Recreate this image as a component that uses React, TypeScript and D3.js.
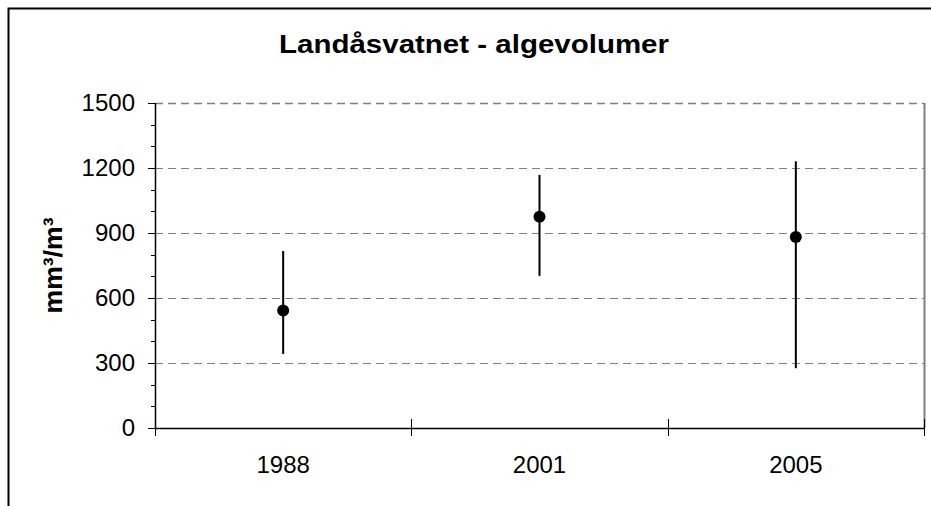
import React from "react";
import * as d3 from "d3";

const categories = ["1988", "2001", "2005"];
const meanValues = [542, 975, 882];
const lowValues = [342, 702, 276];
const highValues = [817, 1168, 1231];
const yTicks = [0, 300, 600, 900, 1200, 1500];
const yMinorTicks = d3.range(0, 1501, 100);
const titleText = "Landåsvatnet - algevolumer";
const yAxisTitle = "mm³/m³";

const W = 931;
const H = 506;
const plot = { left: 155, right: 924, top: 103, bottom: 428 };

export default function App() {
  const x = d3
    .scaleBand<string>()
    .domain(categories)
    .range([plot.left, plot.right])
    .padding(0);
  const y = d3.scaleLinear().domain([0, 1500]).range([plot.bottom, plot.top]);
  const font = "'Liberation Sans', Arial, sans-serif";
  const boundaries = [...categories.map((c) => x(c) as number), plot.right];

  return (
    <svg
      width={W}
      height={H}
      style={{ position: "absolute", left: 0, top: 0, background: "#fff" }}
      fontFamily={font}
    >
      <rect x={0} y={0} width={W} height={H} fill="#fff" />
      {/* outer frame */}
      <rect x={8.5} y={8.5} width={W + 20} height={H + 20} fill="none" stroke="#000" strokeWidth={2} />
      {/* title */}
      <text
        x={474}
        y={53}
        textAnchor="middle"
        fontSize={25}
        fontWeight="bold"
        fill="#000"
        textLength={390}
        lengthAdjust="spacingAndGlyphs"
      >
        {titleText}
      </text>
      {/* gridlines */}
      {yTicks
        .filter((t) => t > 0)
        .map((t) => (
          <line
            key={"g" + t}
            x1={plot.left}
            x2={plot.right}
            y1={Math.round(y(t)) + 0.5}
            y2={Math.round(y(t)) + 0.5}
            stroke="#808080"
            strokeWidth={t === 1500 ? 1.5 : 1}
            strokeDasharray="8,5"
          />
        ))}
      {/* right border */}
      <line x1={plot.right + 0.5} x2={plot.right + 0.5} y1={plot.top} y2={plot.bottom} stroke="#808080" strokeWidth={2} />
      {/* y axis */}
      <line x1={plot.left + 0.5} x2={plot.left + 0.5} y1={plot.top} y2={plot.bottom} stroke="#000" strokeWidth={1.5} />
      {yMinorTicks.map((t) => (
        <line
          key={"m" + t}
          x1={yTicks.includes(t) ? plot.left - 7 : plot.left - 4}
          x2={plot.left}
          y1={Math.round(y(t)) + 0.5}
          y2={Math.round(y(t)) + 0.5}
          stroke="#000"
          strokeWidth={1}
        />
      ))}
      {yTicks.map((t) => (
        <text key={"yl" + t} x={135} y={y(t) + 8} textAnchor="end" fontSize={24} fill="#000">
          {t}
        </text>
      ))}
      {/* x axis */}
      <line x1={plot.left} x2={plot.right} y1={plot.bottom + 0.5} y2={plot.bottom + 0.5} stroke="#000" strokeWidth={1.5} />
      {boundaries.map((b, i) => (
        <line
          key={"xt" + i}
          x1={Math.round(b) + 0.5}
          x2={Math.round(b) + 0.5}
          y1={i === 0 ? plot.bottom : plot.bottom - 9}
          y2={plot.bottom + 8}
          stroke="#000"
          strokeWidth={1}
        />
      ))}
      {categories.map((c) => (
        <text
          key={"xl" + c}
          x={(x(c) as number) + x.bandwidth() / 2}
          y={473}
          textAnchor="middle"
          fontSize={24}
          fill="#000"
        >
          {c}
        </text>
      ))}
      {/* y axis title */}
      <text
        transform={`translate(62, ${(plot.top + plot.bottom) / 2}) rotate(-90)`}
        textAnchor="middle"
        fontSize={25}
        fontWeight="bold"
        fill="#000"
        textLength={96}
        lengthAdjust="spacingAndGlyphs"
      >
        {yAxisTitle}
      </text>
      {/* error bars and points */}
      {categories.map((c, i) => {
        const cx = (x(c) as number) + x.bandwidth() / 2;
        return (
          <g key={"p" + c}>
            <line x1={cx} x2={cx} y1={y(highValues[i])} y2={y(lowValues[i])} stroke="#000" strokeWidth={2} />
            <circle cx={cx} cy={y(meanValues[i])} r={6} fill="#000" />
          </g>
        );
      })}
    </svg>
  );
}
